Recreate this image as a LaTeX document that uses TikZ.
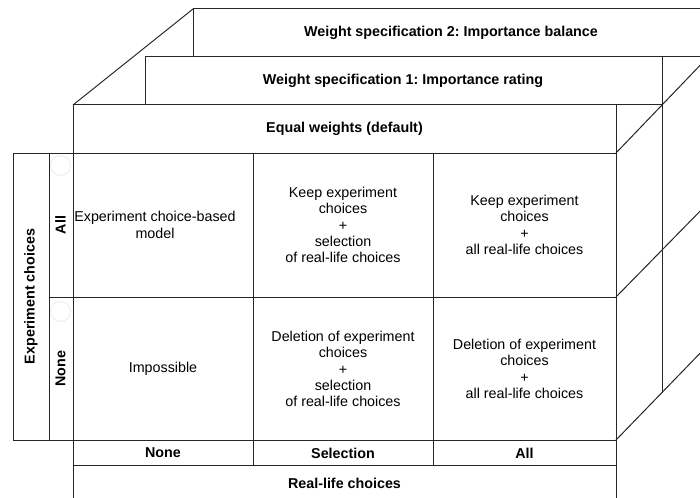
\documentclass[tikz,border=0pt]{standalone}
\usepackage{fontspec}
\setmainfont{Liberation Sans}
\frenchspacing
\begin{document}
\begin{tikzpicture}[x=1pt,y=-1pt,
  edge/.style={draw=black!85, line width=1pt},
  cell/.style={align=center, inner sep=0pt, font=\fontsize{14.3}{16.4}\selectfont},
  head/.style={align=center, inner sep=0pt, font=\fontsize{14.3}{16.4}\selectfont\bfseries},
  ghost/.style={draw=black!8, line width=0.8pt}]
\useasboundingbox (0,0) rectangle (700,497);
\begin{scope}
\clip (0,0) rectangle (700,497);
% back layer: importance balance
\fill[white] (193,9) rectangle (709,345);
\draw[edge] (193,57) -- (193,9) -- (709,9) -- (709,345);
\draw[edge] (193,57) -- (709,57);
% middle layer: importance rating
\fill[white] (145,57) rectangle (662,393);
\draw[edge] (145,105) -- (145,57) -- (662,57) -- (662,393);
\draw[edge] (145,105) -- (662,105);
% front layer: equal weights
\fill[white] (73,105) rectangle (616,510);
\draw[edge] (73,510) -- (73,105) -- (616,105) -- (616,510);
\draw[edge] (73,153) -- (616,153);
\draw[edge] (73,297) -- (616,297);
\draw[edge] (13,440) -- (616,440);
\draw[edge] (73,465) -- (616,465);
\draw[edge] (253,153) -- (253,465);
\draw[edge] (433,153) -- (433,465);
% experiment choice axis
\draw[edge] (13,153) rectangle (49,440);
\draw[edge] (49,153) -- (73,153);
\draw[edge] (49,297) -- (73,297);
\draw[ghost] (60.5,165.5) circle (10);
\draw[ghost] (60.5,311.5) circle (10);
% depth edges
\draw[edge] (73,105) -- (193,9);
\draw[edge] (616,153) -- (709,56);
\draw[edge] (616,297) -- (709,202);
\draw[edge] (616,440) -- (709,344);
\end{scope}
% headers
\node[head] (w2) at (451,33) {Weight specification 2: Importance balance};
\node[head] (w1) at (403,81) {Weight specification 1: Importance rating};
\node[head] (w0) at (344.5,129) {Equal weights (default)};
% axis labels
\node[head, rotate=90] (ec) at (31,296.5) {Experiment choices};
\node[head, rotate=90] (eall) at (60.5,225) {All};
\node[head, rotate=90] (enone) at (60.5,368.5) {None};
\node[head] (rnone) at (163,453) {None};
\node[head] (rsel) at (343,453) {Selection};
\node[head] (rall) at (524.5,453) {All};
\node[head] (rl) at (344.5,483) {Real-life choices};
% cells
\node[cell] (c11) at (155,225) {Experiment choice-based\\model};
\node[cell] (c12) at (343,225) {Keep experiment\\choices\\+\\selection\\of real-life choices};
\node[cell] (c13) at (524.5,225) {Keep experiment\\choices\\+\\all real-life choices};
\node[cell] (c21) at (163,369) {Impossible};
\node[cell] (c22) at (343,369) {Deletion of experiment\\choices\\+\\selection\\of real-life choices};
\node[cell] (c23) at (524.5,369) {Deletion of experiment\\choices\\+\\all real-life choices};
\end{tikzpicture}
\end{document}
